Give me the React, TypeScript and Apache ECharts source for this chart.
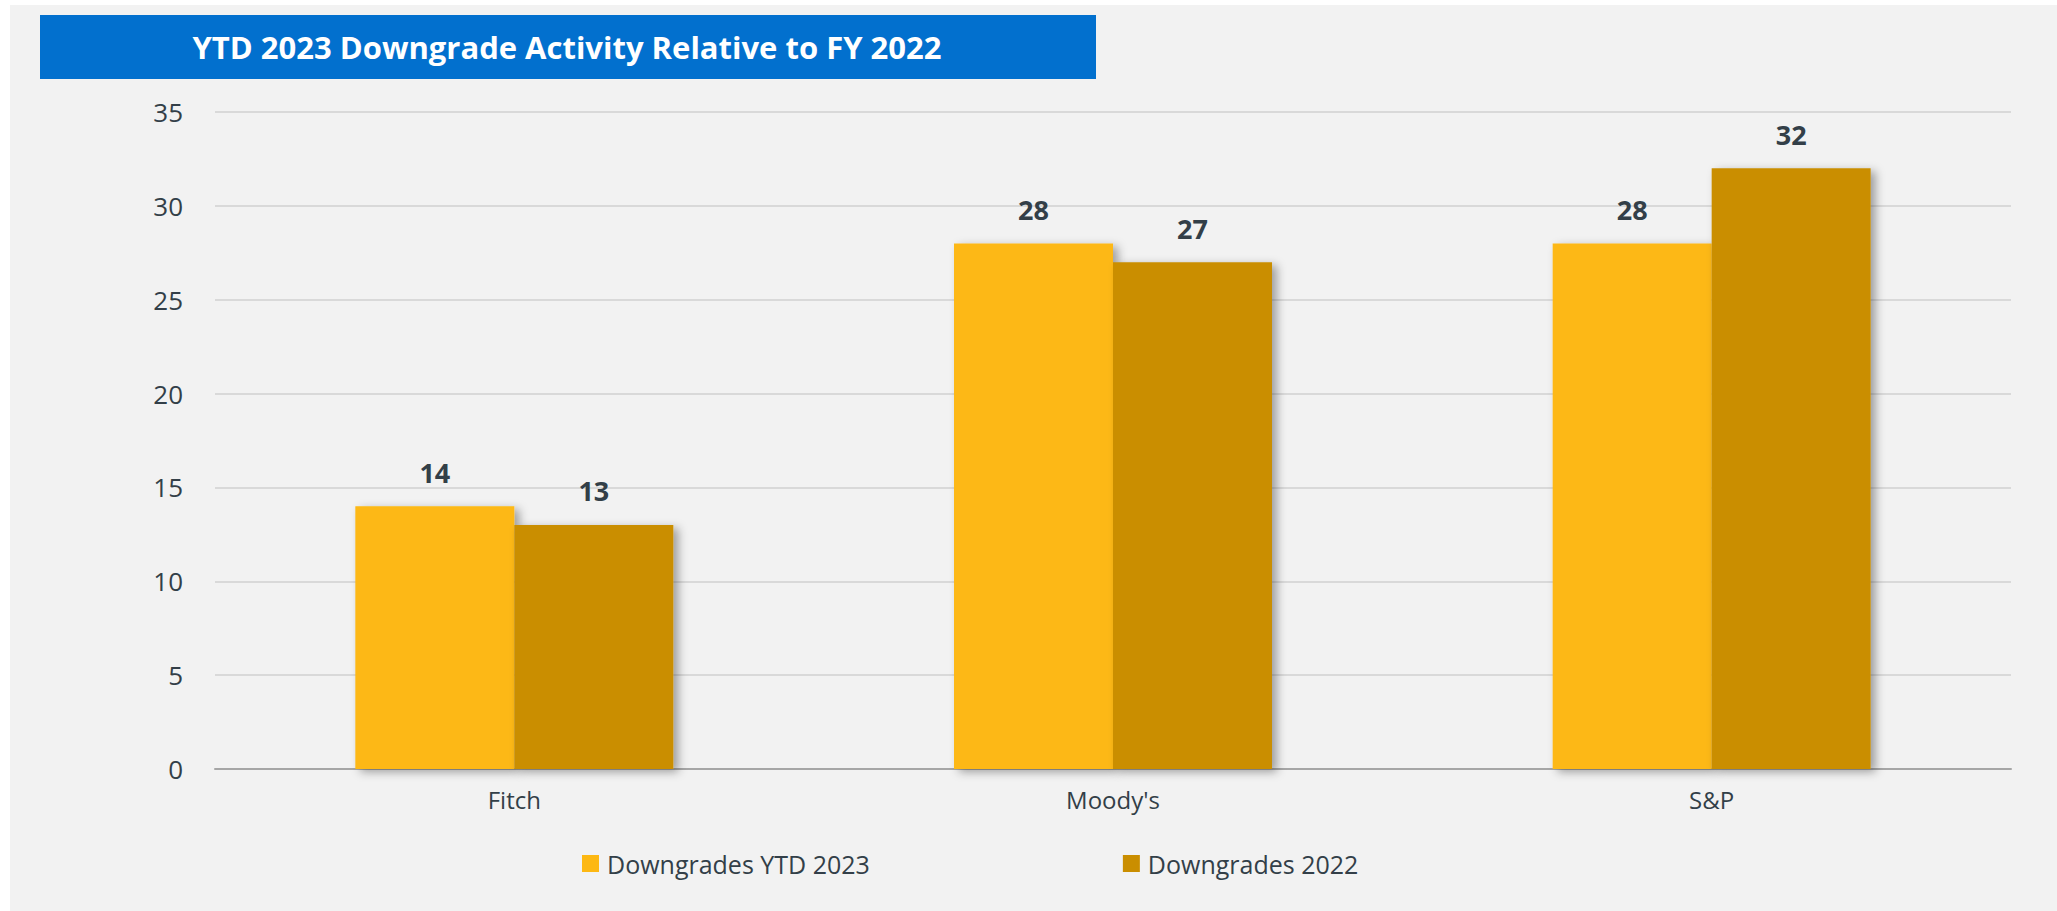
import React, { useEffect, useRef } from "react";
import * as echarts from "echarts";

const titleText = "YTD 2023 Downgrade Activity Relative to FY 2022";
const categories = ["Fitch", "Moody's", "S&P"];
const seriesNames = ["Downgrades YTD 2023", "Downgrades 2022"];
const ytd2023 = [14, 28, 28];
const fy2022 = [13, 27, 32];
const yTicks = { min: 0, max: 35, interval: 5 };

const TEXT = "#333F48";
const FONT = "'Open Sans', 'Noto Sans', sans-serif";

export default function App() {
  const ref = useRef<HTMLDivElement>(null);
  useEffect(() => {
    if (!ref.current) return;
    const chart = echarts.init(ref.current, undefined, { renderer: "svg" });
    const shadow = {
      shadowBlur: 10,
      shadowColor: "rgba(0,0,0,0.35)",
      shadowOffsetX: 5,
      shadowOffsetY: 3,
    };
    const labelStyle = {
      show: true,
      position: "top",
      distance: 20,
      fontSize: 27,
      lineHeight: 28,
      fontWeight: "bold",
      fontFamily: FONT,
      color: TEXT,
    };
    chart.setOption({
      animation: false,
      backgroundColor: "#ffffff",
      graphic: [
        {
          type: "rect",
          z: -100,
          silent: true,
          shape: { x: 10, y: 5, width: 2047, height: 906 },
          style: { fill: "#f2f2f2" },
        },
        {
          type: "rect",
          z: 10,
          shape: { x: 40, y: 15, width: 1056, height: 64 },
          style: { fill: "#0270CE" },
        },
        {
          type: "text",
          z: 11,
          x: 567,
          y: 47,
          style: {
            text: titleText,
            fill: "#ffffff",
            font: `bold 31px ${FONT}`,
            textAlign: "center",
            textVerticalAlign: "middle",
          },
        },
      ],
      legend: {
        data: seriesNames,
        left: 577,
        top: 846,
        itemWidth: 17,
        itemHeight: 17,
        itemGap: 253,
        icon: "rect",
        textStyle: {
          fontSize: 25,
          fontFamily: FONT,
          color: TEXT,
          padding: [0, 0, 0, 3],
        },
      },
      grid: { left: 215, right: 46, top: 112, bottom: 142, containLabel: false },
      xAxis: {
        type: "category",
        data: categories,
        axisTick: { show: false },
        axisLine: { lineStyle: { color: "#a6a6a6", width: 2 } },
        axisLabel: { fontSize: 24, fontFamily: FONT, color: TEXT, margin: 18 },
      },
      yAxis: {
        type: "value",
        min: yTicks.min,
        max: yTicks.max,
        interval: yTicks.interval,
        axisLine: { show: false },
        axisTick: { show: false },
        splitLine: { lineStyle: { color: "#d9d9d9", width: 2 } },
        axisLabel: { fontSize: 26, fontFamily: FONT, color: TEXT, margin: 32 },
      },
      series: [
        {
          name: seriesNames[0],
          type: "bar",
          data: ytd2023,
          barWidth: 159,
          barGap: "0%",
          itemStyle: { color: "#FDB813", ...shadow },
          label: labelStyle,
        },
        {
          name: seriesNames[1],
          type: "bar",
          data: fy2022,
          barWidth: 159,
          barGap: "0%",
          itemStyle: { color: "#CA8E00", ...shadow },
          label: labelStyle,
        },
      ],
    });
    return () => chart.dispose();
  }, []);
  return (
    <div
      style={{ position: "fixed", left: 0, top: 0, width: 2057, height: 911 }}
    >
      <div ref={ref} style={{ width: 2057, height: 911 }} />
    </div>
  );
}
